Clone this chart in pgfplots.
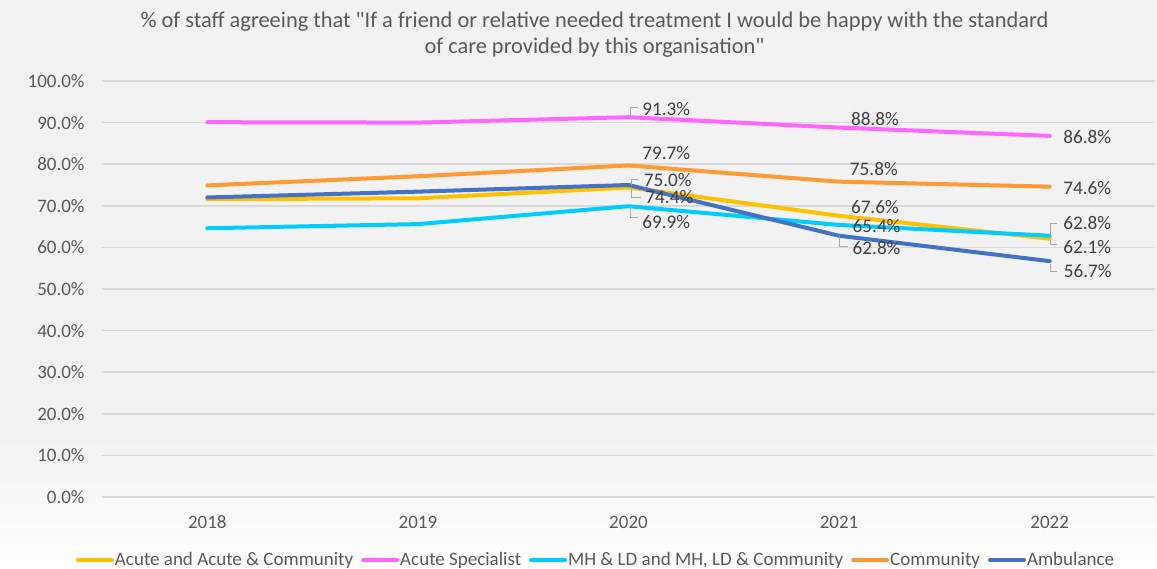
\documentclass[border=0pt]{standalone}
\usepackage{fontspec}
\setmainfont{Carlito}
\usepackage{pgfplots}
\pgfplotsset{compat=1.18}
\definecolor{bgray}{HTML}{F2F2F2}
\definecolor{gridc}{HTML}{D9D9D9}
\definecolor{txt}{HTML}{595959}
\definecolor{labc}{HTML}{404040}
\definecolor{leadc}{HTML}{A6A6A6}
\definecolor{cacute}{HTML}{FFC000}
\definecolor{cspec}{HTML}{FF66FF}
\definecolor{cmh}{HTML}{00CCFF}
\definecolor{ccomm}{HTML}{FF9933}
\definecolor{camb}{HTML}{4472C4}

\begin{document}
\begin{tikzpicture}[
  lab/.style={text=labc, font=\fontsize{9.6}{11}\selectfont, inner sep=0pt},
  leader/.style={draw=leadc, line width=0.5pt},
]
% 1 px of the reference = 0.5pt
\useasboundingbox (0,0) rectangle (578.5pt,284pt);
\fill[bgray] (0,0) rectangle (578.5pt,284pt);
\shade[top color=bgray, bottom color=white!98!bgray] (0,0) rectangle (578.5pt,64pt);

\node[text=txt, font=\fontsize{11.2}{13}\selectfont, align=center]
  at (297.25pt,266.5pt)
  {\% of staff agreeing that \textquotedbl If a friend or relative needed treatment I would be happy with the standard\\
   of care provided by this organisation\textquotedbl};

\begin{axis}[
  at={(51pt,35.5pt)}, anchor=south west,
  scale only axis, width=526.5pt, height=208pt,
  xmin=-0.5, xmax=4.5, ymin=0, ymax=100,
  xtick={0,1,2,3,4},
  xticklabels={2018,2019,2020,2021,2022},
  ytick={0,10,...,100},
  yticklabel={\pgfmathprintnumber[fixed,fixed zerofill,precision=1]{\tick}\%},
  /pgf/number format/assume math mode=true,
  tick label style={text=txt, font=\fontsize{9.5}{11}\selectfont},
  xticklabel style={anchor=center, yshift=-12.5pt},
  yticklabel style={anchor=east, xshift=-5.2pt},
  major tick length=0pt,
  axis line style={draw=none},
  ymajorgrids,
  major grid style={draw=gridc, line width=0.8pt},
  every axis plot/.append style={line width=2pt, line cap=round, line join=round},
  legend columns=5,
  legend cell align=left,
  legend image code/.code={\draw[#1] (0pt,0pt) -- (17pt,0pt);},
  legend style={at={(axis description cs:0.4687,-0.1514)}, anchor=center,
    draw=none, fill=none, text=txt, font=\fontsize{9.5}{11}\selectfont,
    nodes={inner sep=0.5pt},
    /tikz/every even column/.append style={column sep=3.5pt}},
]
\addplot[cacute] coordinates {(0,71.6)(1,71.8)(2,74.4)(3,67.6)(4,62.1)};
\addlegendentry{Acute and Acute \& Community}
\addplot[cspec] coordinates {(0,90.1)(1,90.0)(2,91.3)(3,88.8)(4,86.8)};
\addlegendentry{Acute Specialist}
\addplot[cmh] coordinates {(0,64.6)(1,65.6)(2,69.9)(3,65.4)(4,62.8)};
\addlegendentry{MH \& LD and MH, LD \& Community}
\addplot[ccomm] coordinates {(0,74.9)(1,77.1)(2,79.7)(3,75.8)(4,74.6)};
\addlegendentry{Community}
\addplot[camb] coordinates {(0,72.0)(1,73.4)(2,75.0)(3,62.8)(4,56.7)};
\addlegendentry{Ambulance}

% leader lines
\draw[leader] (axis cs:2,91.3) ++(1pt,0pt) -- ++(0pt,5pt) -- ++(3.5pt,0pt);
\draw[leader] (axis cs:2,75.0) ++(1.5pt,0pt) -- ++(0pt,2.85pt) -- ++(3.2pt,0pt);
\draw[leader] (axis cs:2,74.4) ++(1.5pt,0pt) -- ++(0pt,-5pt) -- ++(4.5pt,0pt);
\draw[leader] (axis cs:2,69.9) ++(1pt,0pt) -- ++(0pt,-5.5pt) -- ++(3.5pt,0pt);
\draw[leader] (axis cs:3,62.8) ++(0.2pt,0pt) -- ++(0pt,-5.35pt) -- ++(4pt,0pt);
\draw[leader] (axis cs:4,62.8) ++(0.3pt,0pt) -- ++(0pt,6pt) -- ++(3.5pt,0pt);
\draw[leader] (axis cs:4,62.1) ++(0.3pt,-0.5pt) -- ++(0pt,-2.5pt) -- ++(3.5pt,0pt);
\draw[leader] (axis cs:4,56.7) ++(0.3pt,-1.5pt) -- ++(0pt,-3.5pt) -- ++(3.5pt,0pt);

% data labels
\node[lab] at (axis cs:2.179,93.3) {91.3\%};
\node[lab] at (axis cs:2.179,82.8) {79.7\%};
\node[lab] at (axis cs:2.186,76.2) {75.0\%};
\node[lab] at (axis cs:2.194,72.0) {74.4\%};
\node[lab] at (axis cs:2.179,66.0) {69.9\%};
\node[lab] at (axis cs:3.170,90.9) {88.8\%};
\node[lab] at (axis cs:3.165,78.8) {75.8\%};
\node[lab] at (axis cs:3.170,69.6) {67.6\%};
\node[lab] at (axis cs:3.178,65.1) {65.4\%};
\node[lab] at (axis cs:3.178,59.9) {62.8\%};
\node[lab] at (axis cs:4.178,86.5) {86.8\%};
\node[lab] at (axis cs:4.178,74.2) {74.6\%};
\node[lab] at (axis cs:4.178,65.8) {62.8\%};
\node[lab] at (axis cs:4.178,60.2) {62.1\%};
\node[lab] at (axis cs:4.181,54.2) {56.7\%};
\end{axis}
\end{tikzpicture}
\end{document}
